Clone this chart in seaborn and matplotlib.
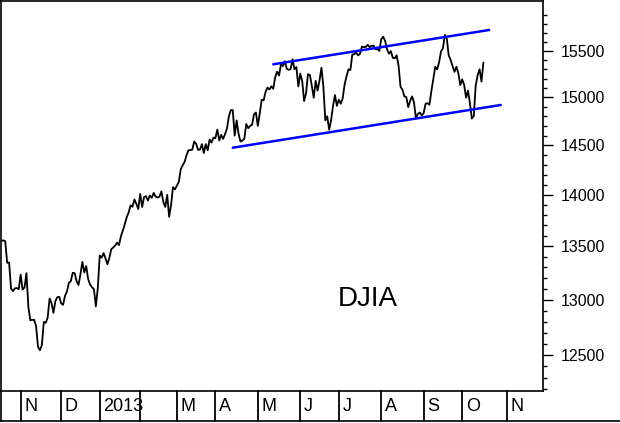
import numpy as np
import pandas as pd
import matplotlib
matplotlib.use('Agg')
import matplotlib.pyplot as plt
from matplotlib.ticker import FixedLocator, FixedFormatter, NullFormatter
from matplotlib.lines import Line2D
import seaborn as sns

# Market closed days (weekends are skipped by the business-day calendar)
holidays = ['2012-10-29', '2012-10-30', '2012-11-22', '2012-12-25', '2013-01-01',
            '2013-01-21', '2013-02-18', '2013-03-29', '2013-05-27', '2013-07-04',
            '2013-09-02', '2013-11-28']

# DJIA daily closes, one value per trading day
oct_2012 = [13551, 13557, 13548, 13343, 13346, 13103, 13077, 13104, 13107, 13096]
nov_2012 = [13232, 13093, 13112, 13246, 12932, 12811, 12815, 12815, 12756, 12571, 12543,
            12589, 12796, 12788, 12836, 13010, 12968, 12879, 12986, 13022, 13026]
dec_2012 = [12966, 12952, 13035, 13075, 13155, 13170, 13249, 13245, 13171, 13135,
            13236, 13351, 13252, 13312, 13190, 13139, 13114, 13096, 12938, 13104]
jan_2013 = [13412, 13391, 13435, 13385, 13329, 13391, 13472, 13488, 13507, 13535, 13511,
            13596, 13650, 13712, 13780, 13826, 13896, 13882, 13954, 13910, 13861]
feb_2013 = [14010, 13880, 13979, 13987, 13944, 13993, 13971, 14019, 13982, 13973,
            13982, 14035, 13928, 13881, 14001, 13784, 13900, 14076, 14054]
mar_2013 = [14090, 14128, 14254, 14296, 14329, 14397, 14448, 14450, 14455, 14539,
            14515, 14453, 14456, 14512, 14421, 14512, 14448, 14560, 14527, 14579]
apr_2013 = [14573, 14662, 14550, 14607, 14565, 14614, 14673, 14802, 14865, 14865, 14599,
            14757, 14619, 14538, 14548, 14568, 14719, 14676, 14700, 14712, 14819, 14840]
may_2013 = [14700, 14831, 14974, 14969, 15056, 15105, 15083, 15118, 15091, 15215, 15275,
            15233, 15354, 15335, 15388, 15307, 15294, 15303, 15409, 15302, 15324, 15116]
jun_2013 = [15254, 15177, 14961, 15041, 15248, 15239, 15123, 14996, 15177, 15071,
            15180, 15318, 15112, 14758, 14800, 14660, 14760, 14910, 15024, 14910]
jul_2013 = [14975, 14932, 14988, 15136, 15225, 15300, 15291, 15461, 15464, 15484, 15452,
            15471, 15548, 15543, 15545, 15568, 15542, 15556, 15559, 15521, 15521, 15500]
aug_2013 = [15628, 15658, 15612, 15519, 15471, 15498, 15426, 15420, 15452, 15337, 15113,
            15081, 15010, 15003, 14897, 14963, 15010, 14946, 14777, 14825, 14840, 14810]
sep_2013 = [14834, 14931, 14938, 14922, 15064, 15192, 15327, 15300, 15376, 15495,
            15530, 15677, 15636, 15452, 15402, 15335, 15273, 15329, 15258, 15130]
oct_2013 = [15192, 15134, 14997, 15073, 14936, 14776, 14803, 15127, 15237, 15301, 15168, 15374]

closes = (oct_2012 + nov_2012 + dec_2012 + jan_2013 + feb_2013 + mar_2013 + apr_2013
          + may_2013 + jun_2013 + jul_2013 + aug_2013 + sep_2013 + oct_2013)

# Channel lines (date, level)
upper_dates = ['2013-05-13', '2013-10-21']
upper_vals = [15355, 15732]
lower_dates = ['2013-04-12', '2013-10-29']
lower_vals = [14475, 14919]

month_labels = ['N', 'D', '2013', '', 'M', 'A', 'M', 'J', 'J', 'A', 'S', 'O', 'N']
y_ticks = [12500, 13000, 13500, 14000, 14500, 15000, 15500]
y_minor = [v for v in range(12200, 16100, 100) if v % 500]

# Trading-day calendar -> x position is the trading day number
calendar = pd.bdate_range('2012-10-16', '2013-11-29', freq='C', holidays=holidays)
pos = pd.Series(np.arange(len(calendar)), index=calendar)
df = pd.DataFrame({'day': pos.iloc[:len(closes)].values, 'close': closes})

upper = pd.DataFrame({'day': pos[pd.to_datetime(upper_dates)].values, 'val': upper_vals})
lower = pd.DataFrame({'day': pos[pd.to_datetime(lower_dates)].values, 'val': lower_vals})

sns.set_style('white')
plt.rcParams['font.family'] = ['Liberation Sans', 'DejaVu Sans']
plt.rcParams['text.color'] = 'black'
plt.rcParams['ytick.color'] = 'black'
plt.rcParams['ytick.labelcolor'] = 'black'

W, H = 620, 423
fig = plt.figure(figsize=(W / 100, H / 100), dpi=100)
ax = fig.add_axes([1 / W, 32 / H, 542 / W, 390 / H])

sns.lineplot(data=df, x='day', y='close', ax=ax, color='black', linewidth=1.3)
sns.lineplot(data=upper, x='day', y='val', ax=ax, color='#0000ff', linewidth=1.8)
sns.lineplot(data=lower, x='day', y='val', ax=ax, color='#0000ff', linewidth=1.8)

ax.set_yscale('log')
ax.set_ylim(12186, 16058)
ax.set_xlim(-0.2, 280.9)

ax.yaxis.set_major_locator(FixedLocator(y_ticks))
ax.yaxis.set_major_formatter(FixedFormatter([str(v) for v in y_ticks]))
ax.yaxis.set_minor_locator(FixedLocator(y_minor))
ax.yaxis.set_minor_formatter(NullFormatter())
ax.tick_params(axis='y', which='both', left=False, labelleft=False,
               right=True, labelright=True, direction='out', color='black', width=1)
ax.tick_params(axis='y', which='major', length=7, labelsize=11.5, pad=6)
ax.tick_params(axis='y', which='minor', length=3)
ax.set_xticks([])
ax.set_xlabel('')
ax.set_ylabel('')
for s in ax.spines.values():
    s.set_color('black')
    s.set_linewidth(1.2)

# Month strip below the plot
starts = calendar.to_series().groupby(calendar.to_period('M')).first()
starts = starts[starts >= pd.Timestamp('2012-11-01')]
strip = -30 / 390
trans = ax.get_xaxis_transform()
for lbl, d in zip(month_labels, starts):
    x = pos[d]
    ax.plot([x, x], [strip, 0], transform=trans, clip_on=False, color='black', lw=1.3)
    ax.annotate(lbl, (x, strip / 2), xycoords=trans, xytext=(2.5, 0),
                textcoords='offset points', ha='left', va='center', fontsize=13)

fig.add_artist(Line2D([0, 1], [2 / H, 2 / H], color='black', lw=1.2))
fig.add_artist(Line2D([1 / W, 1 / W], [2 / H, 32 / H], color='black', lw=1.2))

ax.text(pos[pd.Timestamp('2013-07-23')], 12945, 'DJIA', fontsize=20, color='black',
        ha='center', va='baseline')

fig.savefig('out.png', dpi=100)
